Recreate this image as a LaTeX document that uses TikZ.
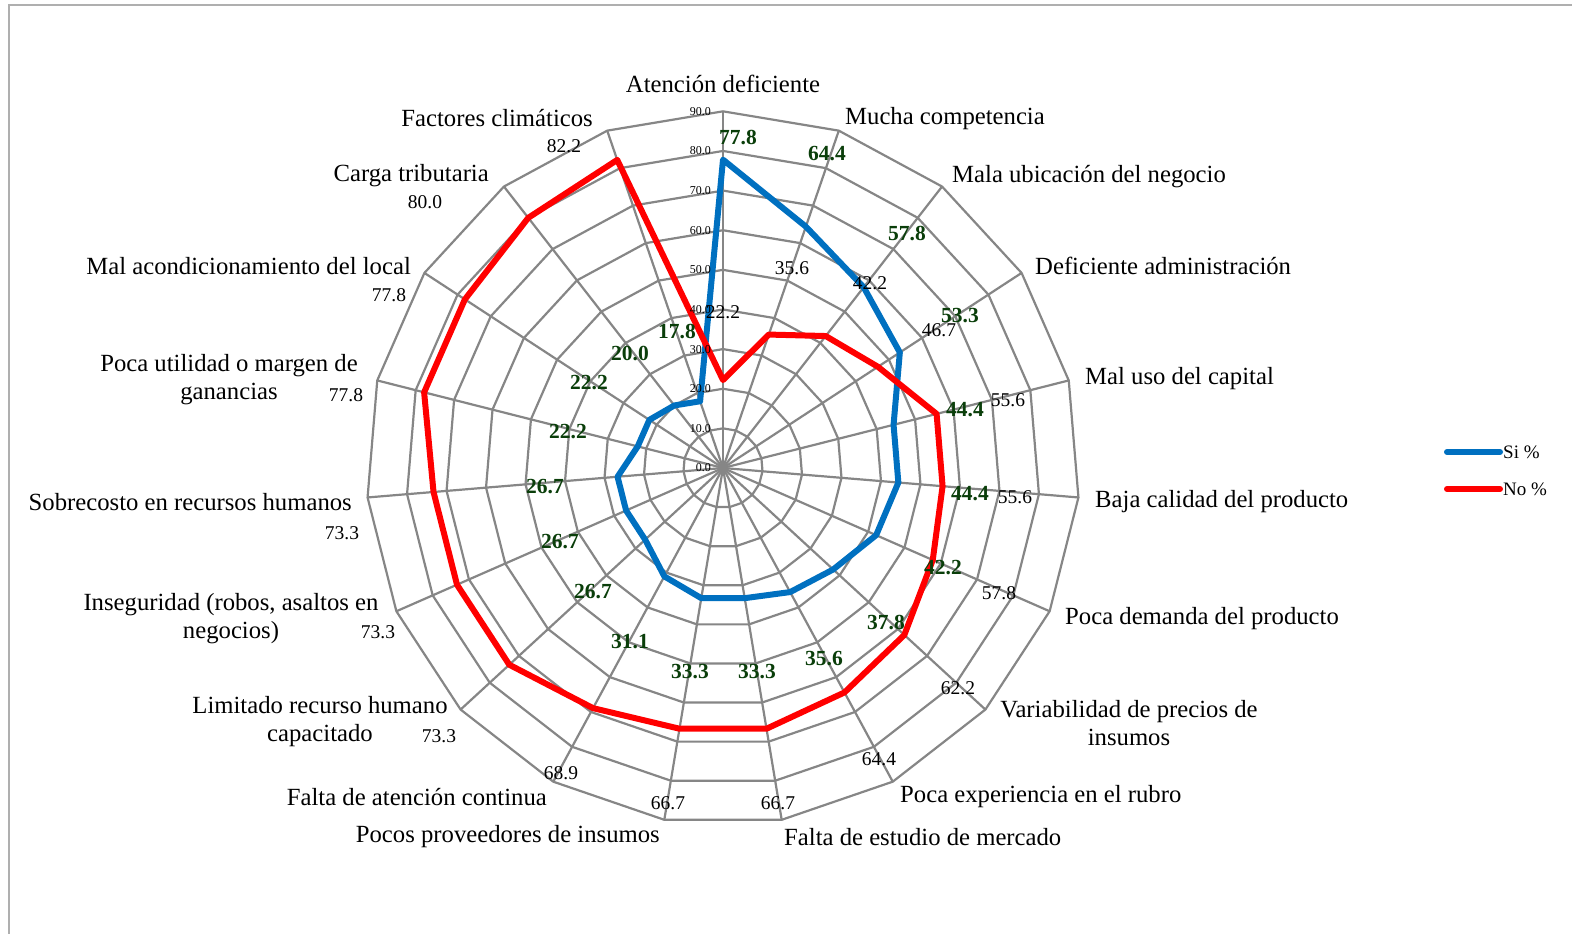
\documentclass[tikz,border=0pt]{standalone}
\usepackage{fontspec}
\setmainfont{Liberation Serif}
\usetikzlibrary{positioning}

\definecolor{gridgray}{RGB}{134,134,134}
\definecolor{framegray}{RGB}{175,175,175}
\definecolor{siblue}{RGB}{0,112,192}
\definecolor{nored}{RGB}{255,0,0}
\definecolor{valgreen}{RGB}{10,62,10}

\begin{document}
\begin{tikzpicture}[x=1pt, y=-1pt,
    grid/.style={draw=gridgray, line width=2.2pt},
    series/.style={line width=6pt, line join=round},
    cat/.style={font=\fontsize{24.7}{28}\selectfont, inner sep=0pt, align=center},
    sival/.style={font=\fontsize{21.5}{24}\selectfont\bfseries, text=valgreen, inner sep=0pt},
    noval/.style={font=\fontsize{19.5}{22}\selectfont, inner sep=0pt},
    ringval/.style={font=\fontsize{12}{14}\selectfont, inner sep=0pt, anchor=east},
    legtext/.style={font=\fontsize{19}{22}\selectfont, inner sep=0pt}]

  \useasboundingbox (0,0) rectangle (1572,934);
  % frame
  \draw[framegray, line width=2pt] (9,934) -- (9,5) -- (1572,5);

  \begin{scope}[shift={(723,468)}]
    \coordinate (o) at (0,0);
    % grid rings
    \foreach \r in {1,...,9} {
      \draw[grid] (-90:\r*39.63) \foreach \k in {1,...,18} { -- (\k*360/19-90:\r*39.63) } -- cycle;
    }
    % axes
    \foreach \k in {0,...,18} {
      \draw[grid] (o) -- (\k*360/19-90:356.7) coordinate (ax\k);
    }
    % series
    \draw[series, siblue] (-90:77.8*3.963)
      \foreach \v [count=\k] in {64.4,57.8,53.3,44.4,44.4,42.2,37.8,35.6,33.3,33.3,31.1,26.7,26.7,26.7,22.2,22.2,20.0,17.8} { -- (\k*360/19-90:\v*3.963) } -- cycle;
    \draw[series, nored] (-90:22.2*3.963)
      \foreach \v [count=\k] in {35.6,42.2,46.7,55.6,55.6,57.8,62.2,64.4,66.7,66.7,68.9,73.3,73.3,73.3,77.8,77.8,80.0,82.2} { -- (\k*360/19-90:\v*3.963) } -- cycle;
  \end{scope}

  % ring values
  \foreach \v/\val in {0/0.0,1/10.0,2/20.0,3/30.0,4/40.0,5/50.0,6/60.0,7/70.0,8/80.0,9/90.0} {
    \node[ringval] (ring\v) at (711,{468-39.63*\v}) {\val};
  }

  % Si values
  \foreach \x/\y/\val [count=\i] in {738/138/77.8, 827/154/64.4, 907/234/57.8, 960/316/53.3,
      965/410/44.4, 970/494/44.4, 943/568/42.2, 886/622/37.8, 824/659/35.6, 757/672/33.3,
      690/672/33.3, 630/642/31.1, 593/592/26.7, 560/542/26.7, 545/487/26.7, 568/432/22.2,
      589/383/22.2, 630/353/20.0, 677/332/17.8} {
    \node[sival] (si\i) at (\x,\y) {\val};
  }

  % No values
  \foreach \x/\y/\val [count=\i] in {723/312/22.2, 792/268/35.6, 870/283/42.2, 939/330/46.7,
      1008/400/55.6, 1015/497/55.6, 999/593/57.8, 958/688/62.2, 879/759/64.4, 778/803/66.7,
      668/803/66.7, 561/773/68.9, 439/736/73.3, 378/632/73.3, 342/533/73.3, 346/395/77.8,
      389/295/77.8, 425/202/80.0, 564/146/82.2} {
    \node[noval] (no\i) at (\x,\y) {\val};
  }

  % categories
  \node[cat] (atencion) at (723,84) {Atención deficiente};
  \node[cat, anchor=west] (competencia) at (845,119) {Mucha competencia};
  \node[cat, anchor=west] (ubicacion) at (952,177) {Mala ubicación del negocio};
  \node[cat, anchor=west] (administracion) at (1035,266) {Deficiente administración};
  \node[cat, anchor=west] (capital) at (1085,379) {Mal uso del capital};
  \node[cat, anchor=west] (calidad) at (1095,502) {Baja calidad del producto};
  \node[cat, anchor=west] (demanda) at (1065,619) {Poca demanda del producto};
  \node[cat] (precios) at (1129,723) {Variabilidad de precios de\\insumos};
  \node[cat, anchor=west] (experiencia) at (900,797) {Poca experiencia en el rubro};
  \node[cat, anchor=west] (estudio) at (784,837) {Falta de estudio de mercado};
  \node[cat, anchor=east] (proveedores) at (660,837) {Pocos proveedores de insumos};
  \node[cat, anchor=east] (continua) at (547,797) {Falta de atención continua};
  \node[cat] (limitado) at (320,722) {Limitado recurso humano\\capacitado};
  \node[cat] (inseguridad) at (231,619) {Inseguridad (robos, asaltos en\\negocios)};
  \node[cat, anchor=east] (sobrecosto) at (352,502) {Sobrecosto en recursos humanos};
  \node[cat] (utilidad) at (229,380) {Poca utilidad o margen de\\ganancias};
  \node[cat, anchor=east] (local) at (411,266) {Mal acondicionamiento del local};
  \node[cat, anchor=east] (tributaria) at (489,176) {Carga tributaria};
  \node[cat, anchor=east] (climaticos) at (593,118) {Factores climáticos};

  % legend
  \coordinate (siA) at (1447,452);
  \coordinate [right=53pt of siA] (siB);
  \coordinate [below=37pt of siA] (noA);
  \coordinate [right=53pt of noA] (noB);
  \draw[series, siblue, line cap=round] (siA) -- (siB);
  \draw[series, nored, line cap=round] (noA) -- (noB);
  \node[legtext, right=3pt of siB] (silegend) {Si \%};
  \node[legtext, right=3pt of noB] (nolegend) {No \%};
\end{tikzpicture}
\end{document}
